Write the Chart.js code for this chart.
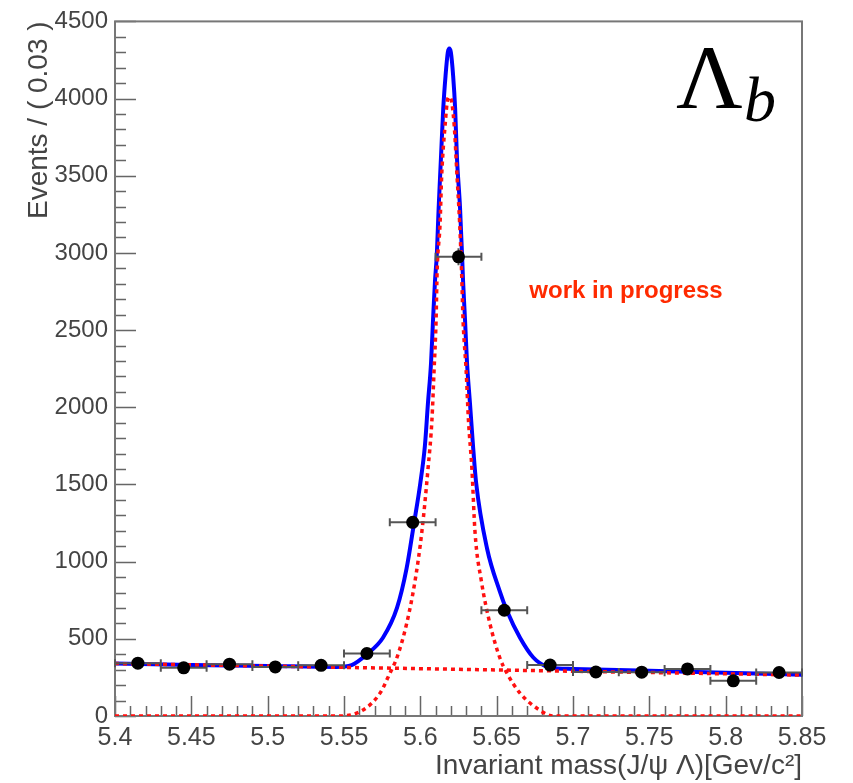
<!DOCTYPE html>
<html><head><meta charset="utf-8">
<script src="https://cdn.jsdelivr.net/npm/chart.js@4/dist/chart.umd.min.js"></script>
<style>html,body{margin:0;padding:0;background:#fff}#wrap{width:853px;height:783px}</style>
</head><body><div id="wrap"><canvas id="c" width="853" height="783"></canvas></div>
<script>
// ---- data ----
const binCenters  = [5.415,5.445,5.475,5.505,5.535,5.565,5.595,5.625,5.655,5.685,5.715,5.745,5.775,5.805,5.835];
const eventCounts = [342,312,336,318,328,405,1255,2975,685,330,285,284,305,228,282];
const countErrors = [18,18,18,18,18,20,35,55,26,18,17,17,17,15,17];
const binHalfWidth = 0.015;

const totalFitX = [5.40,5.45,5.50,5.545,5.555,5.565,5.5755,5.5847,5.591,5.5958,5.600,5.603,5.605,5.607,5.6083,5.6096,5.6108,5.612,5.6135,5.615,5.6165,5.618,5.619,5.620,5.6215,5.6228,5.624,5.626,5.6273,5.628,5.6293,5.6306,5.6325,5.6345,5.6365,5.6437,5.652,5.6568,5.6653,5.674,5.683,5.690,5.700,5.750,5.800,5.850];
const totalFitY = [340,331,324,318,330,400,507,700,956,1245,1510,1752,2028,2285,2561,2818,2990,3293,3614,3935,4146,4300,4325,4300,4146,3935,3614,3293,2991,2818,2561,2285,2028,1752,1515,1085,809,680,507,379,318,308,305,293,280,268];

const signalFitX = [5.40,5.547,5.5625,5.5736,5.580,5.5847,5.591,5.5965,5.601,5.605,5.6076,5.609,5.6103,5.611,5.6129,5.614,5.6162,5.618,5.619,5.620,5.6222,5.624,5.6258,5.627,5.628,5.630,5.6315,5.6338,5.6358,5.640,5.6456,5.652,5.6568,5.6653,5.678,5.687,5.85];
const signalFitY = [0,0,39,148,276,379,597,873,1194,1598,1919,2240,2561,2882,3184,3504,3825,4000,4010,4000,3825,3504,3184,2882,2561,2240,1919,1598,1194,873,597,379,276,148,39,0,0];

const bkgFitX = [5.40,5.85];
const bkgFitY = [340,265];

const xTickValues = [5.4,5.45,5.5,5.55,5.6,5.65,5.7,5.75,5.8,5.85];
const xTickLabels = ["5.4","5.45","5.5","5.55","5.6","5.65","5.7","5.75","5.8","5.85"];
const yTickValues = [0,500,1000,1500,2000,2500,3000,3500,4000,4500];
const yTickLabels = ["0","500","1000","1500","2000","2500","3000","3500","4000","4500"];
const xMinorStep = 0.01, yMinorStep = 100;

const FAM = '"Liberation Sans", Arial, Helvetica, sans-serif';
const pts = (xs, ys) => xs.map((x,i)=>({x, y: ys[i]}));

const framePlugin = {
  id:'frame',
  beforeDatasetsDraw(chart){
    const {ctx, chartArea:a, scales:{x, y}} = chart;
    ctx.save();
    ctx.strokeStyle = '#666'; ctx.lineWidth = 1.5;
    ctx.beginPath();
    const nx = Math.round((x.max - x.min)/xMinorStep);
    for (let i=0;i<=nx;i++){
      const v = x.min + i*xMinorStep;
      const major = xTickValues.some(t=>Math.abs(t-v)<1e-6);
      const px = Math.round(x.getPixelForValue(v))+0.5;
      ctx.moveTo(px, a.bottom); ctx.lineTo(px, a.bottom - (major?20:10));
    }
    const ny = Math.round((y.max - y.min)/yMinorStep);
    for (let i=0;i<=ny;i++){
      const v = y.min + i*yMinorStep;
      const major = yTickValues.includes(v);
      const py = Math.round(y.getPixelForValue(v))+0.5;
      ctx.moveTo(a.left, py); ctx.lineTo(a.left + (major?21:11), py);
    }
    ctx.stroke();
    ctx.strokeStyle = '#777'; ctx.lineWidth = 2;
    ctx.strokeRect(a.left, a.top, a.right-a.left, a.bottom-a.top);
    ctx.restore();
  },
  beforeDatasetDraw(chart, args){
    if (args.index !== 0) return;
    const {ctx, scales:{x, y}} = chart;
    ctx.save();
    ctx.strokeStyle = '#555'; ctx.lineWidth = 2;
    ctx.beginPath();
    binCenters.forEach((c,i)=>{
      const x1 = x.getPixelForValue(c-binHalfWidth), x2 = x.getPixelForValue(c+binHalfWidth);
      const py = y.getPixelForValue(eventCounts[i]);
      const y1 = y.getPixelForValue(eventCounts[i]-countErrors[i]), y2 = y.getPixelForValue(eventCounts[i]+countErrors[i]);
      const px = x.getPixelForValue(c);
      ctx.moveTo(x1, py); ctx.lineTo(x2, py);
      ctx.moveTo(x1, py-4); ctx.lineTo(x1, py+4);
      ctx.moveTo(x2, py-4); ctx.lineTo(x2, py+4);
      ctx.moveTo(px, y1); ctx.lineTo(px, y2);
    });
    ctx.stroke();
    ctx.restore();
  },
  afterDraw(chart){
    const {ctx} = chart;
    ctx.save();
    ctx.fillStyle = '#000';
    ctx.textBaseline = 'alphabetic'; ctx.textAlign = 'left';
    ctx.font = '92px "Liberation Serif", "Times New Roman", serif';
    ctx.fillText('Λ', 676, 108);
    ctx.font = 'italic 64px "Liberation Serif", "Times New Roman", serif';
    ctx.fillText('b', 744, 121);
    ctx.fillStyle = '#ff2a00';
    ctx.textAlign = 'center';
    ctx.font = 'bold 24px ' + FAM;
    ctx.fillText('work in progress', 626, 298);
    ctx.restore();
  }
};

new Chart(document.getElementById('c'), {
  type:'scatter',
  data:{ datasets:[
    { label:'data', data: pts(binCenters, eventCounts), pointRadius:6.5, pointHoverRadius:6.5,
      backgroundColor:'#000', borderColor:'#000', borderWidth:0, showLine:false },
    { label:'background', data: pts(bkgFitX, bkgFitY), showLine:true, pointRadius:0,
      borderColor:'#ff1010', borderWidth:3.5, borderDash:[4,4] },
    { label:'signal', data: pts(signalFitX, signalFitY), showLine:true, pointRadius:0,
      borderColor:'#ff1010', borderWidth:3.5, borderDash:[4,4], cubicInterpolationMode:'monotone' },
    { label:'total', data: pts(totalFitX, totalFitY), showLine:true, pointRadius:0,
      borderColor:'#0000ff', borderWidth:4, cubicInterpolationMode:'monotone' }
  ]},
  options:{
    responsive:false, animation:false, devicePixelRatio:1,
    layout:{ padding:{ top:15, right:51, bottom:0, left:0 } },
    plugins:{ legend:{display:false}, tooltip:{enabled:false} },
    scales:{
      x:{ type:'linear', min:5.4, max:5.85,
        afterBuildTicks(s){ s.ticks = xTickValues.map(v=>({value:v})); },
        afterFit(s){ s.height = 67; },
        ticks:{ callback:(v,i)=>xTickLabels[i], font:{size:25, family:FAM}, color:'#444', padding:7, autoSkip:false, maxRotation:0 },
        grid:{ display:false, drawTicks:false }, border:{ display:false },
        title:{ display:true, text:'Invariant mass(J/ψ Λ)[Gev/c²]', align:'end', color:'#444',
          font:{size:28, family:FAM, lineHeight:1}, padding:{top:0, bottom:3} } },
      y:{ type:'linear', min:0, max:4500,
        afterBuildTicks(s){ s.ticks = yTickValues.map(v=>({value:v})); },
        afterFit(s){ s.width = 115; },
        ticks:{ callback:(v,i)=>yTickLabels[i], font:{size:24, family:FAM}, color:'#444', padding:7, autoSkip:false },
        grid:{ display:false, drawTicks:false }, border:{ display:false },
        title:{ display:true, text:'Events / ( 0.03 )', align:'end', color:'#444',
          font:{size:28, family:FAM, lineHeight:1}, padding:{top:25, bottom:0} } }
    }
  },
  plugins:[framePlugin]
});
</script></body></html>
